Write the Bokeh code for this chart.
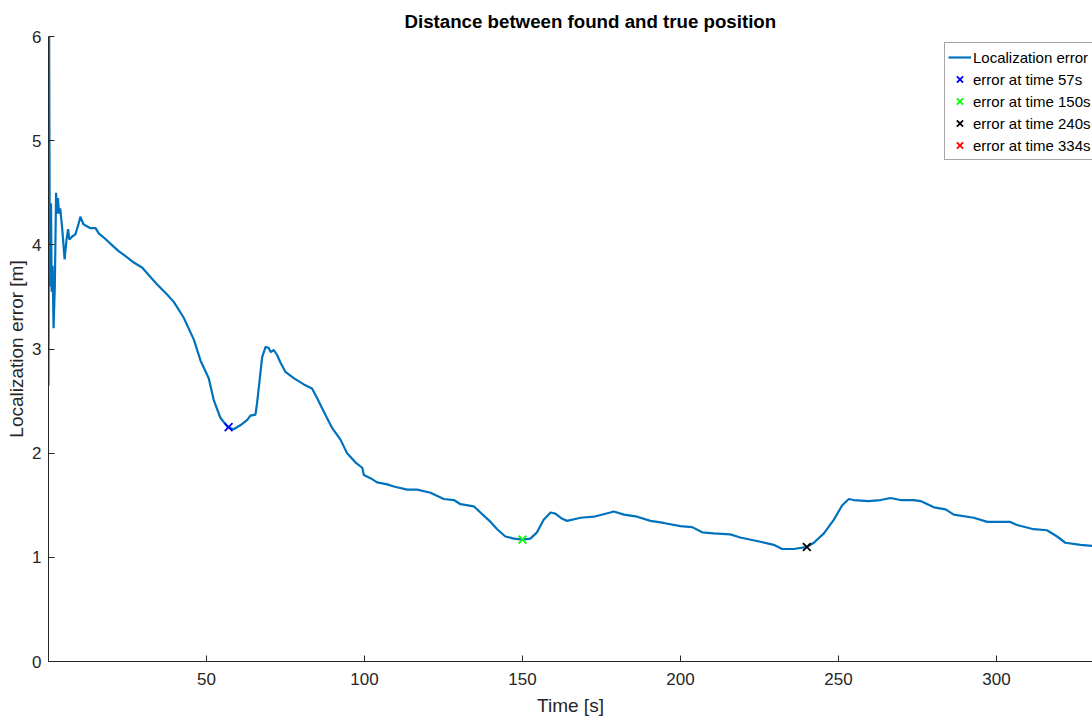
from bokeh.plotting import figure
from bokeh.models import Legend, LegendItem, FixedTicker, Range1d
from bokeh.embed import file_html
from bokeh.resources import INLINE

# Localization error trace (time [s], error [m])
time_s = [0.0, 0.2, 0.4, 0.6, 0.8, 1.0, 1.3, 1.6, 2.0, 2.4, 2.7, 3.0, 3.3, 3.7, 4.3, 5.1,
          5.7, 6.2, 6.6, 7.5, 8.5, 9.5, 10.1, 11.0, 12.0, 13.3, 14.9, 15.9, 17.5, 20.7,
          22.2, 24.9, 27.0, 29.7, 31.7, 34.4, 37.6, 39.7, 42.8, 46.0, 48.1, 50.7, 52.3,
          54.4, 56.7, 58.6, 60.8, 62.9, 63.9, 65.5, 66.0, 66.6, 67.6, 68.7, 69.7, 70.3,
          71.3, 72.4, 73.4, 75.0, 77.6, 80.8, 83.4, 85.0, 87.1, 89.8, 92.4, 94.5, 97.2,
          99.3, 99.8, 101.9, 104.0, 107.2, 109.3, 113.5, 116.7, 120.9, 125.1, 128.3,
          130.4, 134.6, 136.7, 139.9, 142.0, 144.6, 147.3, 150.0, 152.5, 154.6, 156.7,
          158.9, 160.4, 162.6, 164.1, 168.4, 172.6, 177.8, 178.9, 182.1, 186.3, 190.5,
          194.7, 200.0, 203.7, 206.9, 210.5, 215.8, 218.9, 225.3, 229.5, 232.2, 235.9,
          240.1, 242.2, 245.4, 248.5, 251.2, 253.3, 254.8, 259.6, 263.3, 266.5, 269.6,
          273.8, 276.0, 280.2, 283.9, 286.5, 292.8, 297.1, 304.4, 306.5, 311.8, 316.0,
          319.2, 321.8, 326.6, 330.3, 334.0, 340.0]
error_m = [2.65, 6.0, 4.0, 3.6, 4.4, 3.55, 3.8, 3.2, 3.6, 4.5, 4.3, 4.45, 4.3, 4.35, 4.17, 3.86,
           4.05, 4.15, 4.05, 4.08, 4.1, 4.2, 4.27, 4.2, 4.18, 4.16, 4.16, 4.11, 4.07, 3.98,
           3.94, 3.88, 3.83, 3.78, 3.71, 3.62, 3.52, 3.45, 3.30, 3.09, 2.89, 2.72, 2.51,
           2.34, 2.25, 2.23, 2.27, 2.32, 2.36, 2.37, 2.48, 2.64, 2.92, 3.02, 3.01, 2.97,
           2.99, 2.94, 2.87, 2.78, 2.72, 2.66, 2.62, 2.53, 2.40, 2.24, 2.13, 2.00, 1.91,
           1.86, 1.79, 1.76, 1.72, 1.70, 1.68, 1.65, 1.65, 1.62, 1.56, 1.55,
           1.51, 1.49, 1.43, 1.34, 1.27, 1.20, 1.18, 1.17, 1.18, 1.24, 1.36,
           1.43, 1.42, 1.37, 1.35, 1.38, 1.39, 1.43, 1.44, 1.41, 1.39, 1.35,
           1.33, 1.30, 1.29, 1.24, 1.23, 1.22, 1.19, 1.15, 1.12, 1.08, 1.08,
           1.10, 1.14, 1.23, 1.36, 1.50, 1.56, 1.55, 1.54, 1.55, 1.57, 1.55,
           1.55, 1.54, 1.48, 1.46, 1.41, 1.38, 1.34, 1.34, 1.31, 1.27, 1.26,
           1.20, 1.14, 1.12, 1.11, 1.11, 1.10]

marker_times = [57, 150, 240, 334]
marker_errors = [2.25, 1.17, 1.10, 1.11]
marker_colors = ["#0000ff", "#00ff00", "#000000", "#ff0000"]
marker_labels = ["error at time 57s", "error at time 150s", "error at time 240s", "error at time 334s"]

x_ticks = [50, 100, 150, 200, 250, 300]
y_ticks = [0, 1, 2, 3, 4, 5, 6]

FONT = "Liberation Sans"
AX = "#262626"

p = figure(width=1092, height=718, output_backend="svg", toolbar_location=None,
           x_range=Range1d(0, 330.4), y_range=Range1d(0, 6),
           min_border_left=48, min_border_right=0, min_border_top=36, min_border_bottom=56,
           title="Distance between found and true position")
p.title.text_font = FONT
p.title.text_font_size = "18.7px"
p.title.text_font_style = "bold"
p.title.align = "left"
p.title.offset = 356
p.title.standoff = 9
p.title.text_color = "#000000"

p.outline_line_color = None
p.background_fill_color = "white"
p.border_fill_color = "white"
p.xgrid.visible = False
p.ygrid.visible = False

for ax in (p.xaxis[0], p.yaxis[0]):
    ax.axis_line_color = AX
    ax.major_tick_line_color = AX
    ax.major_tick_in = 6
    ax.major_tick_out = 0
    ax.minor_tick_line_color = None
    ax.major_label_text_font = FONT
    ax.major_label_text_font_size = "17px"
    ax.major_label_text_color = AX
    ax.axis_label_text_font = FONT
    ax.axis_label_text_font_size = "19px"
    ax.axis_label_text_font_style = "normal"
    ax.axis_label_text_color = AX

p.xaxis.ticker = FixedTicker(ticks=x_ticks)
p.yaxis.ticker = FixedTicker(ticks=y_ticks)
p.xaxis.axis_label = "Time [s]"
p.yaxis.axis_label = "Localization error [m]"
p.xaxis.major_label_standoff = 11
p.xaxis.axis_label_standoff = 7
p.yaxis.major_label_standoff = 7
p.yaxis.axis_label_standoff = 2

line = p.line(time_s, error_m, line_color="#0072BD", line_width=2.2)
items = [LegendItem(label="Localization error", renderers=[line])]
for t, e, c, lab in zip(marker_times, marker_errors, marker_colors, marker_labels):
    r = p.scatter([t], [e], marker="x", size=11, line_color=c, line_width=1.8)
    items.append(LegendItem(label=lab, renderers=[r]))

legend = Legend(items=items, location=(896, 501))
legend.label_text_font = FONT
legend.label_text_font_size = "15px"
legend.label_text_color = "#000000"
legend.label_height = 22
legend.glyph_height = 22
legend.glyph_width = 23
legend.label_standoff = 2
legend.spacing = 0
legend.padding = 3
legend.margin = 0
legend.border_line_color = "#4d4d4d"
legend.border_line_width = 1
legend.background_fill_color = "white"
legend.background_fill_alpha = 1
p.add_layout(legend, "center")

open("out.html", "w").write(file_html(p, INLINE))
